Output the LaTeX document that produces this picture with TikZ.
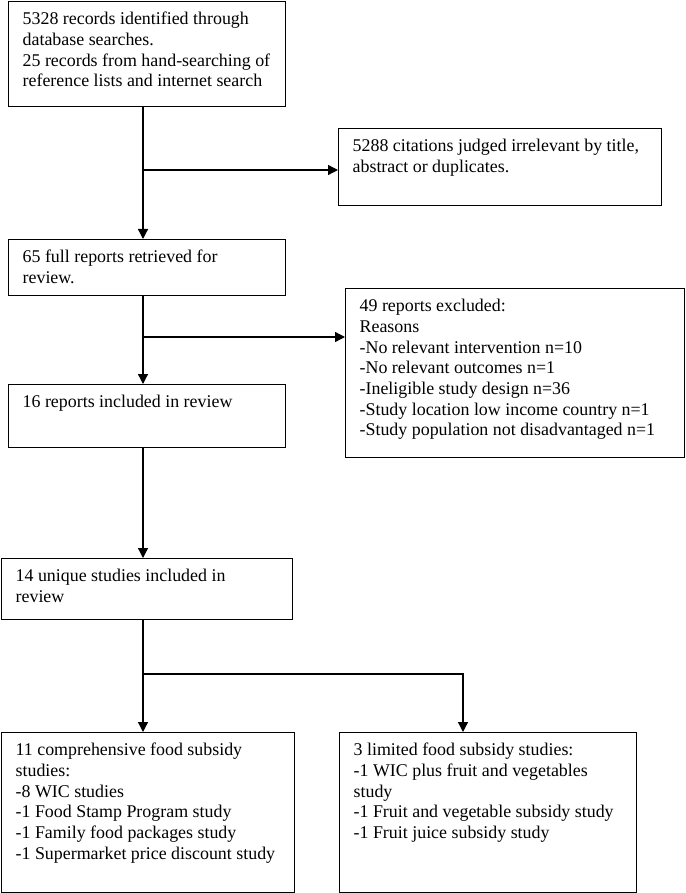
\documentclass[tikz,border=0pt]{standalone}
\usepackage{fontspec}
\setmainfont{Liberation Serif}
\usepackage{tikz}
\usetikzlibrary{arrows.meta}

\newcommand{\stagetext}[3]{\makebox[#1][l]{\parbox[t][#2][t]{400pt}{\strut #3}}}

\tikzset{
  stage/.style={draw, line width=1.3pt, rectangle, anchor=north west,
    inner xsep=14pt, inner ysep=8.5pt,
    font=\fontsize{17.9pt}{20.7pt}\selectfont},
  flow/.style={line width=1.3pt, -{Triangle[length=10pt,width=10pt]}}
}

\begin{document}
\begin{tikzpicture}[x=1pt, y=-1pt]
  \useasboundingbox (0,0) rectangle (685,893);

  \node[stage] (search) at (8,1) {\stagetext{249pt}{88pt}{5328 records identified through\\
    database searches.\\
    25 records from hand-searching of\\
    reference lists and internet search}};
  \node[stage] (irrel) at (338,128) {\stagetext{295pt}{60pt}{5288 citations judged irrelevant by title,\\
    abstract or duplicates.}};
  \node[stage] (fullrep) at (8,239) {\stagetext{249pt}{39pt}{65 full reports retrieved for\\
    review.}};
  \node[stage] (excl) at (345,288) {\stagetext{311pt}{152pt}{49 reports excluded:\\
    Reasons\\
    -No relevant intervention n=10\\
    -No relevant outcomes n=1\\
    -Ineligible study design n=36\\
    -Study location low income country n=1\\
    -Study population not disadvantaged n=1}};
  \node[stage] (incl) at (8,384) {\stagetext{249pt}{46pt}{16 reports included in review}};
  \node[stage] (unique) at (1,558) {\stagetext{263pt}{44pt}{14 unique studies included in\\
    review}};
  \node[stage] (compr) at (1,732) {\stagetext{265pt}{143pt}{11 comprehensive food subsidy\\
    studies:\\
    -8 WIC studies\\
    -1 Food Stamp Program study\\
    -1 Family food packages study\\
    -1 Supermarket price discount study}};
  \node[stage] (limited) at (339,732) {\stagetext{269pt}{143pt}{3 limited food subsidy studies:\\
    -1 WIC plus fruit and vegetables\\
    study\\
    -1 Fruit and vegetable subsidy study\\
    -1 Fruit juice subsidy study}};

  % main column and its branches
  \coordinate (spine) at (143,0);
  \coordinate (split1) at (143,170);
  \coordinate (split2) at (143,337);
  \coordinate (split3) at (143,674);
  \coordinate (bend) at (463,674);

  \draw[flow] (search.south -| spine) -- (fullrep.north -| spine);
  \draw[flow] (split1) -- (split1 -| irrel.west);
  \draw[flow] (fullrep.south -| spine) -- (incl.north -| spine);
  \draw[flow] (split2) -- (split2 -| excl.west);
  \draw[flow] (incl.south -| spine) -- (unique.north -| spine);
  \draw[flow] (unique.south -| spine) -- (compr.north -| spine);
  \draw[flow] (split3) -- (bend) -- (bend |- limited.north);
\end{tikzpicture}
\end{document}
